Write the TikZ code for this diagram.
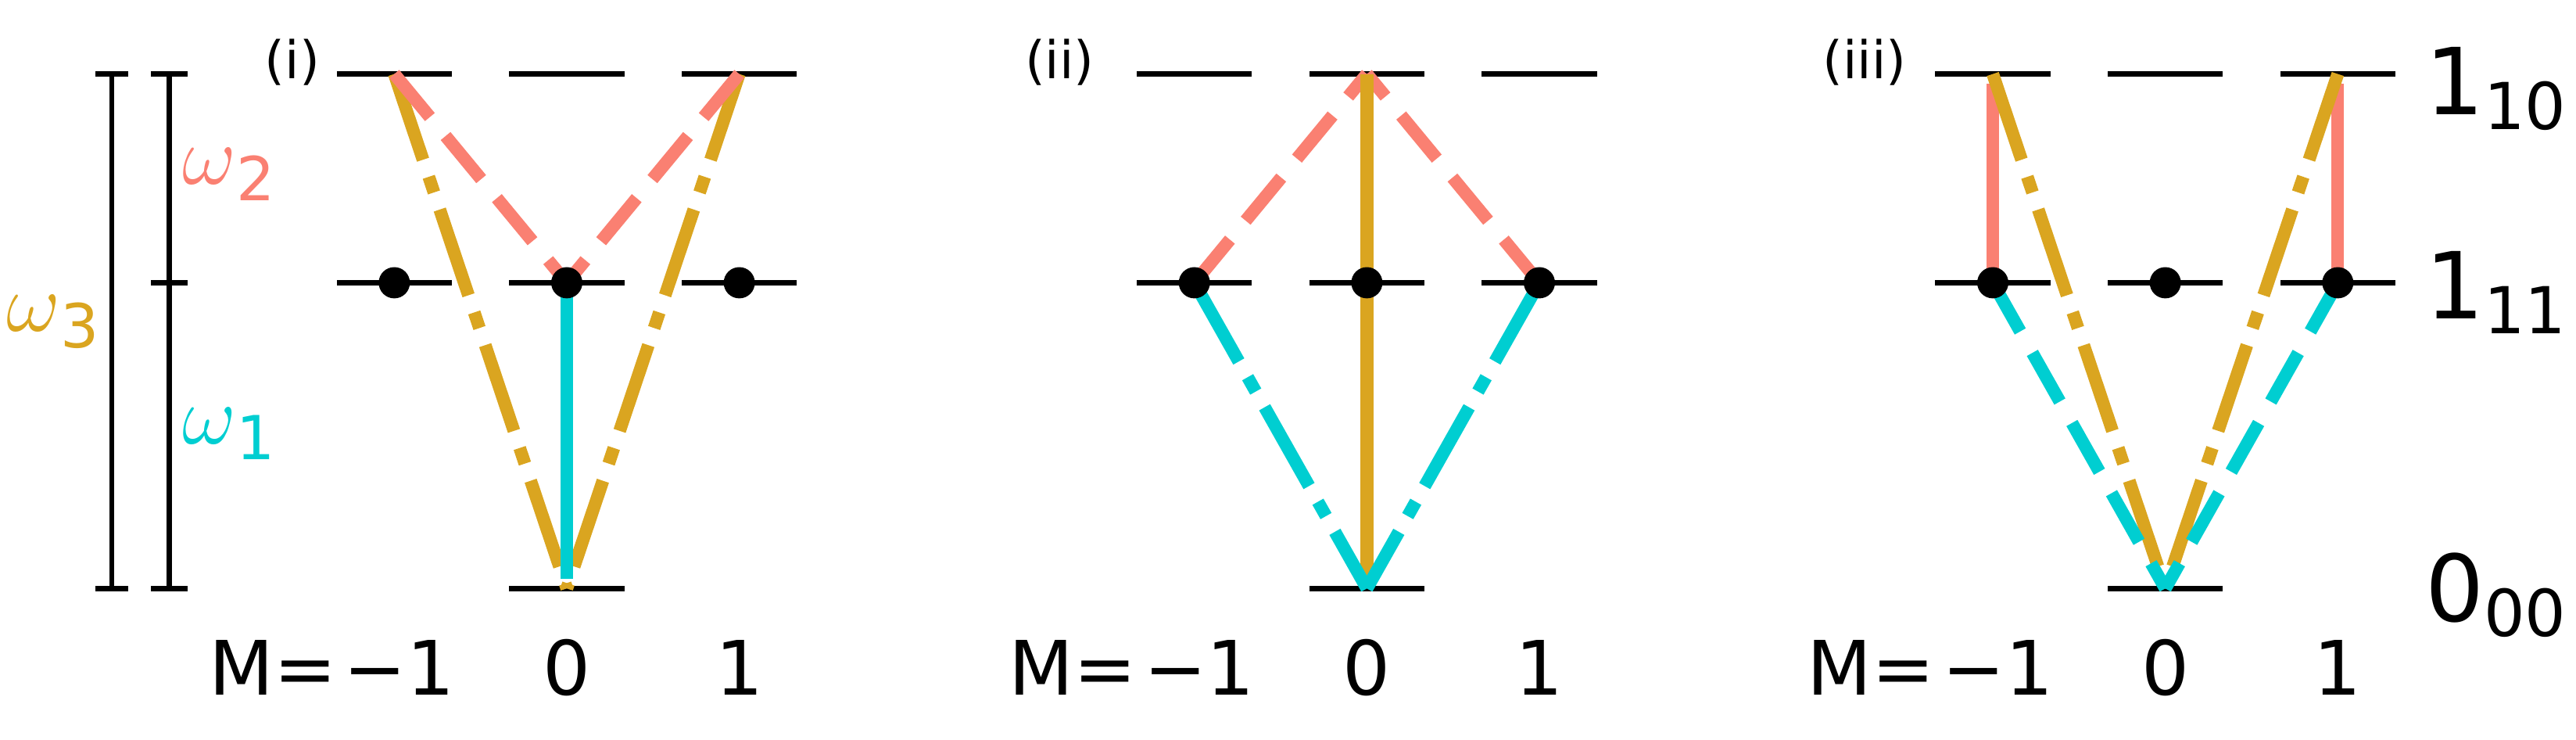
\documentclass[tikz,border=0pt]{standalone}
\usepackage{fontspec}
\setmainfont{DejaVu Sans}
\begin{document}
\begin{tikzpicture}[x=1mm,y=-1mm,
  lvl/.style={line width=0.9pt,black},
  trans/.style={line width=2.2pt,line cap=butt},
  dsh/.style={trans,dash pattern=on 3.4mm off 1.5mm},
  dd/.style={trans,dash pattern=on 5.5mm off 1.1mm on 1mm off 1.1mm},
  dot/.style={circle,fill=black,inner sep=0pt,minimum size=1.9mm},
  mlab/.style={font=\fontsize{13}{14}\selectfont,anchor=center},
  plab/.style={font=\fontsize{9}{10}\selectfont},
  wlab/.style={font=\fontsize{15}{16}\selectfont},
  rlab/.style={font=\fontsize{16}{17}\selectfont},
  bar/.style={line width=0.9pt}]
\definecolor{sal}{HTML}{FA8072}
\definecolor{gold}{HTML}{DAA520}
\definecolor{cy}{HTML}{00CED1}
\useasboundingbox (0,0) rectangle (156.8,45);
% levels
\foreach \p/\c in {a/34.5,b/83.2,c/131.8}{
  \foreach \m/\d in {m/-10.5,z/0,p/10.5}{
    \coordinate (\p\m T) at (\c+\d,4.5);
    \coordinate (\p\m M) at (\c+\d,17.2);
    \draw[lvl] (\c+\d-3.5,4.5) -- (\c+\d+3.5,4.5);
    \draw[lvl] (\c+\d-3.5,17.2) -- (\c+\d+3.5,17.2);
  }
  \coordinate (\p B) at (\c,35.8);
  \draw[lvl] (\c-3.5,35.8) -- (\c+3.5,35.8);
}
% panel (i)
\draw[dd,gold] (amT) -- (aB);
\draw[dd,gold] (apT) -- (aB);
\draw[dsh,sal] (amT) -- (azM);
\draw[dsh,sal] (apT) -- (azM);
\draw[trans,cy] (azM) -- ([yshift=0.6mm]aB);
% panel (ii)
\draw[dsh,sal] (bmM) -- (bzT);
\draw[dsh,sal] (bpM) -- (bzT);
\draw[trans,gold] (bzT) -- (bB);
\draw[dd,cy] (bmM) -- (bB);
\draw[dd,cy] (bpM) -- (bB);
% panel (iii)
\draw[trans,sal] ([yshift=-0.6mm]cmT) -- (cmM);
\draw[trans,sal] ([yshift=-0.6mm]cpT) -- (cpM);
\draw[dd,gold] (cmT) -- (cB);
\draw[dd,gold] (cpT) -- (cB);
\draw[dsh,cy] (cmM) -- (cB);
\draw[dsh,cy] (cpM) -- (cB);
% dots
\foreach \p in {a,b,c}{\foreach \m in {m,z,p}{\node[dot] (\p\m D) at (\p\m M) {};}}
% bars
\draw[bar] (6.8,4.5) -- (6.8,35.8);
\draw[bar] (5.8,4.5) -- (7.8,4.5); \draw[bar] (5.8,35.8) -- (7.8,35.8);
\draw[bar] (10.3,4.5) -- (10.3,35.8);
\draw[bar] (9.2,4.5) -- (11.4,4.5); \draw[bar] (9.2,17.2) -- (11.4,17.2); \draw[bar] (9.2,35.8) -- (11.4,35.8);
\node[wlab,text=sal] (w2) at (14,10.6) {$\omega$\textsubscript{2}};
\node[wlab,text=cy] (w1) at (14,26.4) {$\omega$\textsubscript{1}};
\node[wlab,text=gold] (w3) at (3.3,19.6) {$\omega$\textsubscript{3}};
% panel labels
\node[plab] (li) at (17.8,3.8) {(i)};
\node[plab] (lii) at (64.5,3.8) {(ii)};
\node[plab] (liii) at (113.5,3.8) {(iii)};
% M labels
\foreach \p/\c in {a/34.5,b/83.2,c/131.8}{
  \node[mlab] (\p Meq) at (\c-17.9,40.6) {M=};
  \node[mlab] (\p M1) at (\c-10.2,40.6) {−1};
  \node[mlab] (\p M2) at (\c,40.6) {0};
  \node[mlab] (\p M3) at (\c+10.5,40.6) {1};
}
% right labels
\node[rlab] (r1) at (152,5.4) {1\textsubscript{10}};
\node[rlab] (r2) at (152,17.8) {1\textsubscript{11}};
\node[rlab] (r3) at (152,36.2) {0\textsubscript{00}};
\end{tikzpicture}
\end{document}
